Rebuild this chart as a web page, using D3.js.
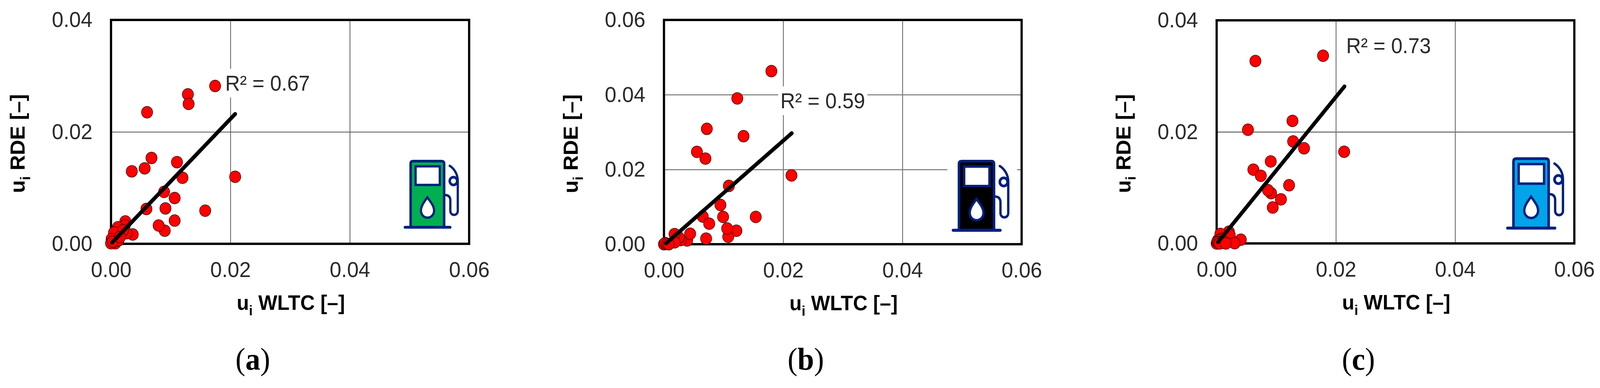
<!DOCTYPE html>
<html>
<head>
<meta charset="utf-8">
<script src="https://cdn.jsdelivr.net/npm/d3@7"></script>
<style>
  html, body { margin: 0; padding: 0; background: #fff; overflow: hidden; }
  text { font-family: "Liberation Sans", Arial, sans-serif; }
  .tick text { font-size: 56px; fill: #2a2a2a; }
  .axisTitle { font-size: 54px; font-weight: bold; fill: #000; }
  .r2 { font-size: 55px; fill: #2a2a2a; }
  .caption { font-family: "Liberation Serif", serif; font-size: 80px; fill: #000; }
</style>
</head>
<body>
<div id="chart"></div>
<script>
var width = 4299,
    height = 993;

var xTicks = [0, 0.02, 0.04, 0.06];
var yTicksShort = [0, 0.02, 0.04];
var yTicksTall = [0, 0.02, 0.04, 0.06];

// panel (a)
var aX = [0.01744, 0.01288, 0.0130, 0.00604, 0.00678, 0.01105, 0.00564, 0.00348, 0.01197, 0.0208,
          0.00889, 0.01066, 0.00593, 0.00912, 0.01578, 0.01066, 0.009, 0.00798,
          0.00364, 0.0024, 0.0023, 0.00115, 0.0026, 0.0005, 0.002, 0.0001, 0.0007, 0, 0.00124, 0.0003, 0.0015];
var aY = [0.0282, 0.0267, 0.0250, 0.0235, 0.01534, 0.01459, 0.01348, 0.01295, 0.0118, 0.01198,
          0.00928, 0.00818, 0.00623, 0.00632, 0.00592, 0.00415, 0.00234, 0.00327,
          0.00167, 0.0040, 0.0033, 0.00295, 0.0019, 0.0020, 0.0024, 0.00086, 0.0001, 0.0001, 0.0006, 0.0004, 0.0012];
var aTrendX = [0.00017, 0.0208];
var aTrendY = [0.0002, 0.0232];

// panel (b)
var bX = [0.01802, 0.0123, 0.00719, 0.01335, 0.00553, 0.00696, 0.02139, 0.01089, 0.00947, 0.0154,
          0.0065, 0.00759, 0.00992, 0.01215, 0.01078, 0.0106, 0.00707, 0.00388, 0.00439, 0.0028,
          0.0025, 0.00177, 0.0018, 0.0003, 0, 0.0002, 0.0005, 0.0008];
var bY = [0.0463, 0.0390, 0.03086, 0.0289, 0.0247, 0.0229, 0.0184, 0.0156, 0.0105, 0.0073,
          0.0074, 0.0055, 0.0073, 0.0036, 0.0020, 0.0042, 0.0015, 0.0010, 0.0028, 0.0011,
          0.0018, 0.0027, 0.0005, 0.0002, 0, 0.0003, 0.0001, 0];
var bTrendX = [0.00034, 0.02144];
var bTrendY = [0.0002, 0.0297];

// panel (c)
var cX = [0.01785, 0.0065, 0.01272, 0.00525, 0.01283, 0.01466, 0.02139, 0.00907, 0.00616, 0.00741,
          0.01215, 0.00913, 0.00861, 0.01078, 0.00941, 0.00405, 0.00205, 0.00063, 0.0022, 0.0008,
          0.00023, 0.00302, 0, 0.0001, 0.0003, 0.0005, 0.00154];
var cY = [0.03365, 0.0327, 0.02197, 0.02038, 0.01829, 0.01705, 0.01643, 0.0147, 0.01323, 0.01212,
          0.01043, 0.00901, 0.00954, 0.0079, 0.00644, 0.00067, 0.0021, 0.0017, 0.0015, 0.0008,
          0.00058, 0.00004, 0, 0.0003, 0.0002, 0, 0];
var cTrendX = [0.00023, 0.02144];
var cTrendY = [0.00022, 0.02815];

var panels = [
  { letter: "a", xs: aX, ys: aY, trendX: aTrendX, trendY: aTrendY, yTicks: yTicksShort, yMax: 0.04,
    r2: "R\u00b2 = 0.67", r2x: 0.01913, r2y: 0.02735, left: 298.3, right: 1260.5, top: 51, bottom: 624,
    fuel: "#00b050", iconX: 1060, iconY: 380, iconScale: 1, hGrid: "#555", hGridWidth: 2 },
  { letter: "b", xs: bX, ys: bY, trendX: bTrendX, trendY: bTrendY, yTicks: yTicksTall, yMax: 0.06,
    r2: "R\u00b2 = 0.59", r2x: 0.01953, r2y: 0.03635, left: 1784, right: 2745, top: 51, bottom: 625,
    fuel: "#000000", iconX: 2531.4, iconY: 378.6, iconScale: 1.045, hGrid: "#777", hGridWidth: 2.5 },
  { letter: "c", xs: cX, ys: cY, trendX: cTrendX, trendY: cTrendY, yTicks: yTicksShort, yMax: 0.04,
    r2: "R\u00b2 = 0.73", r2x: 0.02173, r2y: 0.03412, left: 3269, right: 4230, top: 52, bottom: 623,
    fuel: "#00a4e8", iconX: 4021, iconY: 372, iconScale: 1.05, hGrid: "#777", hGridWidth: 3 }
];

var navy = "#00207f";

// the browser caps the window width, so stretch the drawing to whatever it gets
var svg = d3.select("#chart").append("svg")
    .attr("viewBox", "0 0 " + width + " " + height)
    .attr("preserveAspectRatio", "none")
    .style("width", "100vw")
    .style("height", "100vh")
    .style("display", "block");

svg.append("rect")
    .attr("width", width)
    .attr("height", height)
    .attr("fill", "#fff");

panels.forEach(drawPanel);

function drawPanel(p) {
  var x = d3.scaleLinear().domain([0, 0.06]).range([p.left, p.right]);
  var y = d3.scaleLinear().domain([0, p.yMax]).range([p.bottom, p.top]);
  var g = svg.append("g").attr("id", "panel-" + p.letter);

  // Grid
  var xGrid = g.append("g")
      .attr("transform", "translate(0," + p.bottom + ")")
      .call(d3.axisBottom(x).tickValues(xTicks).tickSize(p.top - p.bottom).tickFormat(""));
  xGrid.select(".domain").remove();
  xGrid.selectAll("line").attr("stroke", "#555").attr("stroke-width", 2);

  var yGrid = g.append("g")
      .attr("transform", "translate(" + p.left + ",0)")
      .call(d3.axisLeft(y).tickValues(p.yTicks).tickSize(p.left - p.right).tickFormat(""));
  yGrid.select(".domain").remove();
  yGrid.selectAll("line").attr("stroke", p.hGrid).attr("stroke-width", p.hGridWidth);

  // Frame
  g.append("rect")
      .attr("x", p.left)
      .attr("y", p.top)
      .attr("width", p.right - p.left)
      .attr("height", p.bottom - p.top)
      .attr("fill", "none")
      .attr("stroke", "#000")
      .attr("stroke-width", 6);

  // Tick labels
  var xAxis = g.append("g")
      .attr("transform", "translate(0," + p.bottom + ")")
      .call(d3.axisBottom(x).tickValues(xTicks).tickSize(0).tickPadding(45).tickFormat(d3.format(".2f")));
  xAxis.select(".domain").remove();
  xAxis.attr("font-size", null).attr("font-family", null);

  var yAxis = g.append("g")
      .attr("transform", "translate(" + p.left + ",0)")
      .call(d3.axisLeft(y).tickValues(p.yTicks).tickSize(0).tickPadding(50).tickFormat(d3.format(".2f")));
  yAxis.select(".domain").remove();
  yAxis.attr("font-size", null).attr("font-family", null);

  // Axis titles
  var xTitle = g.append("text")
      .attr("class", "axisTitle")
      .attr("text-anchor", "middle")
      .attr("x", (p.left + p.right) / 2 + 2)
      .attr("y", p.bottom + 169);
  addTitleText(xTitle, " WLTC [\u2013]");

  var yTitle = g.append("text")
      .attr("class", "axisTitle")
      .attr("text-anchor", "middle")
      .attr("transform", "translate(" + (p.left - 232) + "," + ((p.top + p.bottom) / 2 + 30) + ")rotate(-90)");
  addTitleText(yTitle, " RDE [\u2013]");

  // Caption
  var caption = g.append("text")
      .attr("class", "caption")
      .attr("text-anchor", "middle")
      .attr("x", p.left + 381)
      .attr("y", 946);
  caption.append("tspan").text("(");
  caption.append("tspan").attr("font-weight", "bold").text(p.letter);
  caption.append("tspan").text(")");

  drawPump(g, p);

  // R2 label, white box behind it hides the grid
  var r2Box = g.append("rect").attr("fill", "#fff");
  var r2Text = g.append("text")
      .attr("class", "r2")
      .attr("x", x(p.r2x))
      .attr("y", y(p.r2y))
      .text(p.r2);
  var box = r2Text.node().getBBox();
  r2Box.attr("x", box.x - 6)
      .attr("y", box.y - 6)
      .attr("width", box.width + 12)
      .attr("height", box.height + 12);

  // Points
  g.append("g").selectAll("circle")
      .data(d3.range(p.xs.length))
    .enter().append("circle")
      .attr("cx", function(i) { return x(p.xs[i]); })
      .attr("cy", function(i) { return y(p.ys[i]); })
      .attr("r", 15)
      .attr("fill", "#ff0000")
      .attr("stroke", "#3a0000")
      .attr("stroke-width", 1.5);

  // Trend line
  g.append("line")
      .attr("x1", x(p.trendX[0]))
      .attr("y1", y(p.trendY[0]))
      .attr("x2", x(p.trendX[1]))
      .attr("y2", y(p.trendY[1]))
      .attr("stroke", "#000")
      .attr("stroke-width", 10)
      .attr("stroke-linecap", "round");
}

function addTitleText(sel, rest) {
  sel.append("tspan").text("u");
  sel.append("tspan").attr("font-size", 36).attr("dy", 14).text("i");
  sel.append("tspan").attr("dy", -14).text(rest);
}

// Fuel pump icon, drawn in its own 3x coordinates
function drawPump(g, p) {
  var icon = g.append("g")
      .attr("transform", "translate(" + p.iconX + "," + p.iconY + ")scale(" + (p.iconScale / 3) + ")");
  icon.append("rect")
      .attr("x", 40).attr("y", 40)
      .attr("width", 538).attr("height", 590)
      .attr("fill", "#fff");
  icon.append("path")
      .attr("d", "M130,605V117Q130,97 150,97H380Q400,97 400,117V605Z")
      .attr("fill", p.fuel)
      .attr("stroke", navy)
      .attr("stroke-width", 20);
  icon.append("rect")
      .attr("x", 170).attr("y", 137)
      .attr("width", 195).attr("height", 143)
      .attr("fill", "#fff")
      .attr("stroke", navy)
      .attr("stroke-width", 18);
  icon.append("path")
      .attr("d", "M265,375C240,410 213,440 213,478A52,52 0 0 0 319,478C319,440 290,410 265,375Z")
      .attr("fill", "#fff")
      .attr("stroke", navy)
      .attr("stroke-width", 18);
  icon.append("path")
      .attr("d", "M85,605H448")
      .attr("fill", "none")
      .attr("stroke", navy)
      .attr("stroke-width", 22)
      .attr("stroke-linecap", "round");
  icon.append("path")
      .attr("d", "M445,133C480,155 510,195 510,250V480A30,30 0 0 1 450,480V400Q450,357 405,357")
      .attr("fill", "none")
      .attr("stroke", navy)
      .attr("stroke-width", 18)
      .attr("stroke-linecap", "round");
  icon.append("circle")
      .attr("cx", 475).attr("cy", 250).attr("r", 30)
      .attr("fill", "#fff")
      .attr("stroke", navy)
      .attr("stroke-width", 20);
}
</script>
</body>
</html>
